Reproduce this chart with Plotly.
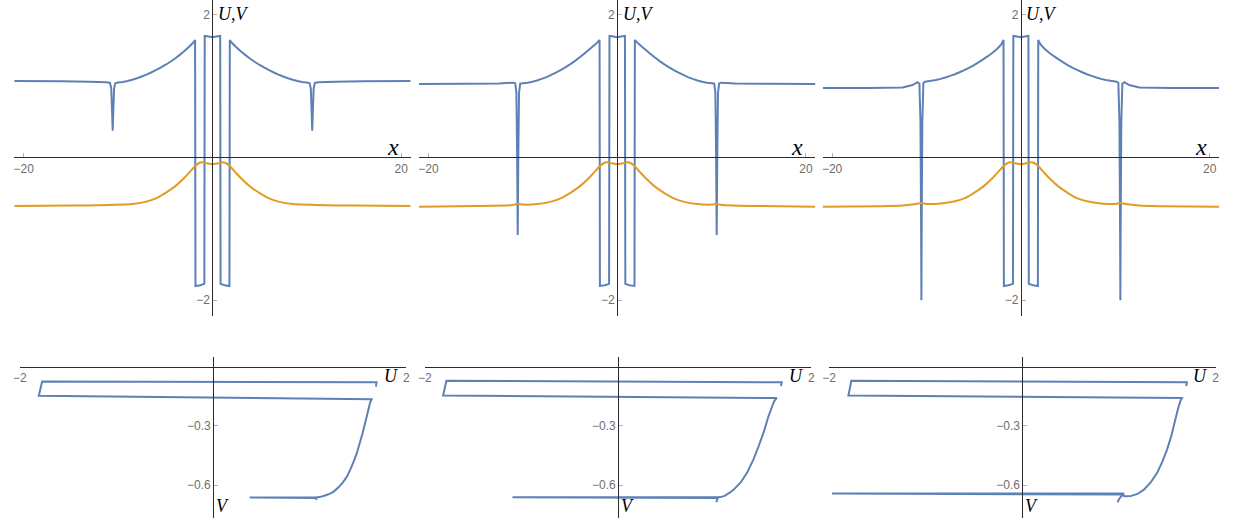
import plotly.graph_objects as go

W, H = 1234, 518
BLUE = "#5E81B5"
ORANGE = "#E19C24"
AXIS_COLOR = "#2b2b2b"
TICK_COLOR = "#b0b0b0"
TICK_FONT = dict(family="Liberation Sans", size=12, color="#6e6e6e")
LABEL_FONT = "Liberation Serif"

# ---------------- profiles U(x) and V(x) ----------------
x_u1 = [-21, -16, -13, -11.2, -10.85, -10.72, -10.63, -10.57, -10.51, -10.42, -10.3, -10.0,
        -9.5, -9.0, -8.5, -8.0, -7.5, -7.0, -6.5, -6.0, -5.5, -5.0, -4.5, -4.0, -3.5, -3.0, -2.5, -2.0,
        -1.84, -1.80, -1.3, -0.86, -0.82, -0.4, 0, 0.4, 0.82, 0.86, 1.3, 1.80, 1.84,
        2.0, 2.5, 3.0, 3.5, 4.0, 4.5, 5.0, 5.5, 6.0, 6.5, 7.0, 7.5, 8.0, 8.5, 9.0, 9.5,
        10.0, 10.3, 10.42, 10.51, 10.57, 10.63, 10.72, 10.85, 11.2, 13, 16, 21]
u1 = [1.067, 1.062, 1.055, 1.048, 1.04, 0.96, 0.62, 0.37, 0.62, 0.96, 1.035, 1.045,
      1.053, 1.066, 1.084, 1.105, 1.130, 1.157, 1.186, 1.218, 1.253, 1.291, 1.333, 1.379, 1.429, 1.483, 1.543, 1.609,
      1.64, -1.80, -1.79, -1.77, 1.697, 1.688, 1.68, 1.688, 1.697, -1.77, -1.79, -1.80, 1.64,
      1.609, 1.543, 1.483, 1.429, 1.379, 1.333, 1.291, 1.253, 1.218, 1.186, 1.157, 1.130, 1.105, 1.084, 1.066, 1.053,
      1.045, 1.035, 0.96, 0.62, 0.37, 0.62, 0.96, 1.04, 1.048, 1.055, 1.062, 1.067]

x_u2 = [-21, -16, -12.5, -11.06, -10.8, -10.68, -10.6, -10.54, -10.48, -10.4, -10.28, -10.02,
        -9.5, -9.0, -8.5, -8.0, -7.5, -7.0, -6.5, -6.0, -5.5, -5.0, -4.5, -4.0, -3.5, -3.0, -2.5, -2.1,
        -1.87, -1.83, -1.3, -0.86, -0.82, -0.4, 0, 0.4, 0.82, 0.86, 1.3, 1.83, 1.87,
        2.1, 2.5, 3.0, 3.5, 4.0, 4.5, 5.0, 5.5, 6.0, 6.5, 7.0, 7.5, 8.0, 8.5, 9.0, 9.5,
        10.02, 10.28, 10.4, 10.48, 10.54, 10.6, 10.68, 10.8, 11.06, 12.5, 16, 21]
u2 = [1.025, 1.027, 1.032, 1.044, 1.035, 0.9, 0.0, -1.086, 0.0, 0.9, 1.03, 1.035,
      1.043, 1.056, 1.074, 1.096, 1.122, 1.152, 1.185, 1.220, 1.259, 1.300, 1.345, 1.395, 1.448, 1.503, 1.560, 1.607,
      1.64, -1.80, -1.79, -1.77, 1.697, 1.688, 1.68, 1.688, 1.697, -1.77, -1.79, -1.80, 1.64,
      1.607, 1.560, 1.503, 1.448, 1.395, 1.345, 1.300, 1.259, 1.220, 1.185, 1.152, 1.122, 1.096, 1.074, 1.056, 1.043,
      1.035, 1.03, 0.9, 0.0, -1.086, 0.0, 0.9, 1.035, 1.044, 1.032, 1.027, 1.025]

x_u3 = [-21, -16, -12.53, -11.48, -10.96, -10.75, -10.64, -10.57, -10.54, -10.51, -10.44, -10.33,
        -10.16, -9.5, -9.0, -8.5, -8.0, -7.5, -7.0, -6.5, -6.0, -5.5, -5.0, -4.5, -4.0, -3.5, -3.0, -2.5, -2.1,
        -1.84, -1.80, -1.3, -0.84, -0.80, -0.4, 0, 0.4, 0.80, 0.84, 1.3, 1.80, 1.84,
        2.1, 2.5, 3.0, 3.5, 4.0, 4.5, 5.0, 5.5, 6.0, 6.5, 7.0, 7.5, 8.0, 8.5, 9.0, 9.5, 10.16,
        10.33, 10.44, 10.51, 10.54, 10.57, 10.64, 10.75, 10.96, 11.48, 12.53, 16, 21]
u3 = [0.969, 0.970, 0.977, 1.01, 1.05, 1.03, 0.5, -1.0, -2.0, -1.0, 0.5, 1.04,
      1.057, 1.069, 1.080, 1.097, 1.116, 1.138, 1.162, 1.189, 1.218, 1.250, 1.287, 1.327, 1.370, 1.414, 1.462, 1.518, 1.575,
      1.64, -1.80, -1.79, -1.77, 1.697, 1.688, 1.68, 1.688, 1.697, -1.77, -1.79, -1.80, 1.64,
      1.575, 1.518, 1.462, 1.414, 1.370, 1.327, 1.287, 1.250, 1.218, 1.189, 1.162, 1.138, 1.116, 1.097, 1.080, 1.069, 1.057,
      1.04, 0.5, -1.0, -2.0, -1.0, 0.5, 1.03, 1.05, 1.01, 0.977, 0.970, 0.969]

x_v1 = [-21, -15, -11, -8.5, -7, -6, -5, -4, -3, -2.3, -1.8, -1.4, -1.1, -0.6, 0,
        0.6, 1.1, 1.4, 1.8, 2.3, 3, 4, 5, 6, 7, 8.5, 11, 15, 21]
v1 = [-0.681, -0.676, -0.667, -0.655, -0.62, -0.575, -0.50, -0.41, -0.29, -0.19, -0.12, -0.08, -0.07, -0.084, -0.098,
      -0.084, -0.07, -0.08, -0.12, -0.19, -0.29, -0.41, -0.50, -0.575, -0.62, -0.655, -0.667, -0.676, -0.681]

x_v2 = [-21, -15, -11.1, -10.55, -10.0, -8.5, -7, -6, -5, -4, -3, -2.3, -1.8, -1.4, -1.1, -0.6, 0,
        0.6, 1.1, 1.4, 1.8, 2.3, 3, 4, 5, 6, 7, 8.5, 10.0, 10.55, 11.1, 15, 21]
v2 = [-0.691, -0.682, -0.668, -0.655, -0.662, -0.655, -0.62, -0.575, -0.50, -0.41, -0.29, -0.19, -0.12, -0.08, -0.07, -0.084, -0.098,
      -0.084, -0.07, -0.08, -0.12, -0.19, -0.29, -0.41, -0.50, -0.575, -0.62, -0.655, -0.662, -0.655, -0.668, -0.682, -0.691]

x_v3 = [-21, -15, -12.5, -11.1, -10.55, -10.0, -8.5, -7, -6, -5, -4, -3, -2.3, -1.8, -1.4, -1.1, -0.6, 0,
        0.6, 1.1, 1.4, 1.8, 2.3, 3, 4, 5, 6, 7, 8.5, 10.0, 10.55, 11.1, 12.5, 15, 21]
v3 = [-0.691, -0.684, -0.675, -0.655, -0.639, -0.652, -0.645, -0.615, -0.575, -0.50, -0.41, -0.29, -0.19, -0.12, -0.08, -0.07, -0.084, -0.098,
      -0.084, -0.07, -0.08, -0.12, -0.19, -0.29, -0.41, -0.50, -0.575, -0.615, -0.645, -0.652, -0.639, -0.655, -0.675, -0.684, -0.691]

# ---------------- phase portraits (U, V) ----------------
pu1 = [1.075, 1.055, 0.378, 1.06, 1.10, 1.16, 1.21, 1.248, 1.30, 1.345, 1.385, 1.42, 1.455, 1.487,
       1.515, 1.545, 1.572, 1.60, 1.623, 1.640, -1.804, -1.770, 1.691, 1.685]
pv1 = [-0.674, -0.665, -0.663, -0.663, -0.661, -0.653, -0.643, -0.633, -0.61, -0.585, -0.557, -0.52, -0.48, -0.438,
       -0.39, -0.34, -0.286, -0.23, -0.184, -0.164, -0.147, -0.0745, -0.078, -0.100]

pu2 = [1.016, 1.03, -1.094, 1.03, 1.06, 1.10, 1.15, 1.196, 1.27, 1.333, 1.40, 1.453, 1.51, 1.555,
       1.59, 1.613, 1.641, -1.812, -1.778, 1.692, 1.685]
pv2 = [-0.687, -0.665, -0.662, -0.662, -0.661, -0.655, -0.64, -0.623, -0.585, -0.538, -0.47, -0.403, -0.325, -0.251,
       -0.205, -0.175, -0.158, -0.146, -0.070, -0.078, -0.098]

pu3 = [0.985, 1.00, 1.03, 1.053, -1.97, 1.02, 1.06, 1.121, 1.19, 1.258, 1.33, 1.395, 1.45, 1.497,
       1.545, 1.583, 1.615, 1.634, 1.651, -1.80, -1.77, 1.703, 1.696]
pv3 = [-0.687, -0.672, -0.652, -0.643, -0.643, -0.648, -0.657, -0.656, -0.645, -0.623, -0.585, -0.538, -0.48, -0.420,
       -0.345, -0.267, -0.205, -0.175, -0.158, -0.146, -0.070, -0.078, -0.098]

# ---------------- axes setup ----------------
TOP_XR, TOP_YR = [-21, 21], [-2.22, 2.2]
BOT_XR, BOT_YR = [-2, 2], [-0.767, 0.05]
top_x_px = [(7.3, 407.3), (415.7, 815.7), (823.0, 1223.0)]
bot_x_px = [(13.0, 403.0), (421.7, 811.7), (829.5, 1219.5)]
TOP_Y_PX = (0, 316)
BOT_Y_PX = (357, 518)

top_xticks, top_xtext = [-20, 20], ["\u221220", "20"]
top_yticks, top_ytext = [-2, 2], ["\u22122", "2"]
bot_xticks, bot_xtext = [-2, 2], ["\u22122", "2"]
bot_yticks, bot_ytext = [-0.6, -0.3], ["\u22120.6", "\u22120.3"]

fig = go.Figure()
layout = {}


def axes(idx, xpx, ypx, xr, yr, xt, xtt, yt, ytt):
    """Axis pair crossing at the origin, placed by pixel extents."""
    xd = [xpx[0] / W, xpx[1] / W]
    yd = [1 - ypx[1] / H, 1 - ypx[0] / H]
    xpos = yd[0] + (0 - yr[0]) / (yr[1] - yr[0]) * (yd[1] - yd[0])
    ypos = xd[0] + (0 - xr[0]) / (xr[1] - xr[0]) * (xd[1] - xd[0])
    common = dict(showline=True, linecolor=AXIS_COLOR, linewidth=1, ticks="inside",
                  ticklen=4, tickwidth=1, tickcolor=TICK_COLOR, showgrid=False,
                  zeroline=False, tickfont=TICK_FONT, anchor="free", fixedrange=True)
    s = "" if idx == 1 else str(idx)
    layout["xaxis" + s] = dict(domain=xd, range=xr, position=xpos, tickvals=xt,
                               ticktext=xtt, side="bottom", **common)
    layout["yaxis" + s] = dict(domain=yd, range=yr, position=ypos, tickvals=yt,
                               ticktext=ytt, side="left", **common)
    return "x" + s, "y" + s


profiles = [(x_u1, u1, x_v1, v1), (x_u2, u2, x_v2, v2), (x_u3, u3, x_v3, v3)]
phases = [(pu1, pv1), (pu2, pv2), (pu3, pv3)]
annotations = []

for i in range(3):
    xa, ya = axes(i + 1, top_x_px[i], TOP_Y_PX, TOP_XR, TOP_YR,
                  top_xticks, top_xtext, top_yticks, top_ytext)
    xu, uu, xv, vv = profiles[i]
    fig.add_trace(go.Scatter(x=xu, y=uu, mode="lines", xaxis=xa, yaxis=ya,
                             line=dict(color=BLUE, width=2, simplify=False)))
    fig.add_trace(go.Scatter(x=xv, y=vv, mode="lines", xaxis=xa, yaxis=ya,
                             line=dict(color=ORANGE, width=2, shape="spline", smoothing=0.8,
                                       simplify=False)))
    annotations.append(dict(xref=xa, yref=ya, x=19.1, y=0.15, text="<i>x</i>", showarrow=False,
                            xanchor="center", yanchor="middle",
                            font=dict(family=LABEL_FONT, size=24, color="black")))
    annotations.append(dict(xref=xa, yref=ya, x=0.35, y=2.0, text="<i>U</i>,<i>V</i>", showarrow=False,
                            xanchor="left", yanchor="middle",
                            font=dict(family=LABEL_FONT, size=18, color="black")))

for i in range(3):
    xa, ya = axes(i + 4, bot_x_px[i], BOT_Y_PX, BOT_XR, BOT_YR,
                  bot_xticks, bot_xtext, bot_yticks, bot_ytext)
    pu, pv = phases[i]
    fig.add_trace(go.Scatter(x=pu, y=pv, mode="lines", xaxis=xa, yaxis=ya,
                             line=dict(color=BLUE, width=2, simplify=False)))
    annotations.append(dict(xref=xa, yref=ya, x=1.84, y=-0.046, text="<i>U</i>", showarrow=False,
                            xanchor="center", yanchor="middle",
                            font=dict(family=LABEL_FONT, size=18, color="black")))
    annotations.append(dict(xref=xa, yref=ya, x=0.092, y=-0.706, text="<i>V</i>", showarrow=False,
                            xanchor="center", yanchor="middle",
                            font=dict(family=LABEL_FONT, size=18, color="black")))

fig.update_layout(width=W, height=H, margin=dict(l=0, r=0, t=0, b=0),
                  paper_bgcolor="white", plot_bgcolor="white", showlegend=False,
                  annotations=annotations, **layout)

fig.write_html("out.html", config={"displayModeBar": False})
